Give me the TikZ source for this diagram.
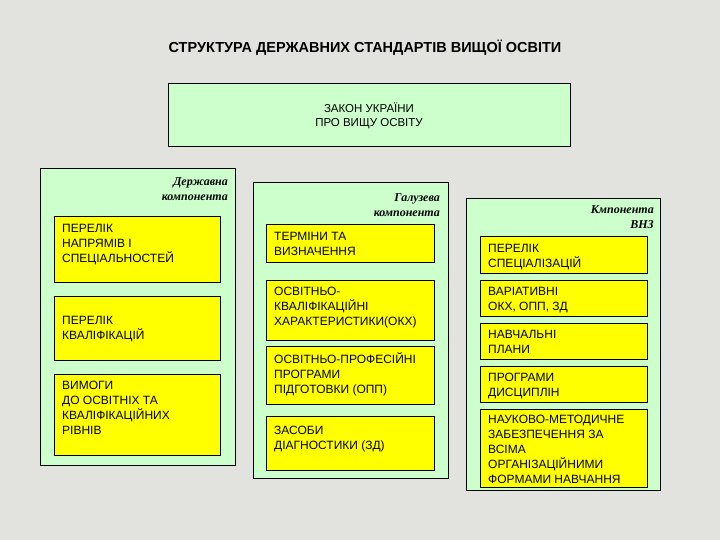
\documentclass[tikz,border=0pt]{standalone}
\usepackage{fontspec}
\setmainfont{Liberation Sans}
\newfontfamily\serifit{Liberation Serif}
\definecolor{bg}{RGB}{226,226,222}
\definecolor{lg}{RGB}{204,255,204}
\definecolor{yl}{RGB}{255,255,0}
\tikzset{
 outer/.style={draw=black,fill=lg,line width=0.7pt},
 ybox/.style={draw=black,fill=yl,line width=0.7pt},
 txt/.style={anchor=north west,align=left,font=\fontsize{12}{15}\selectfont,inner sep=0pt,yshift=-3pt},
 lab/.style={anchor=north east,align=right,font=\serifit\bfseries\itshape\fontsize{12}{15}\selectfont,inner sep=0pt}
}
\begin{document}
\begin{tikzpicture}[x=1pt,y=-1pt]
\fill[bg] (0,0) rectangle (720,540);
\useasboundingbox (0,0) rectangle (720,540);
\node[font=\bfseries\fontsize{14.5}{17}\selectfont] (title) at (365,48) {СТРУКТУРА ДЕРЖАВНИХ СТАНДАРТІВ ВИЩОЇ ОСВІТИ};
\draw[outer] (168,83) rectangle (570,146);
\node[align=center,font=\fontsize{11.5}{14}\selectfont] (law) at (369,116) {ЗАКОН УКРАЇНИ\\ПРО ВИЩУ ОСВІТУ};
% left
\draw[outer] (40,168) rectangle (235,465);
\node[lab] (l1) at (228,177) {Державна\\компонента};
\draw[ybox] (54,216) rectangle (220,282);
\node[txt] (a1) at (62,221) {ПЕРЕЛІК\\НАПРЯМІВ І\\СПЕЦІАЛЬНОСТЕЙ};
\draw[ybox] (54,296) rectangle (220,360);
\node[txt] (a2) at (62,313) {ПЕРЕЛІК\\КВАЛІФІКАЦІЙ};
\draw[ybox] (54,374) rectangle (220,455);
\node[txt] (a3) at (62,378) {ВИМОГИ\\ДО ОСВІТНІХ ТА\\КВАЛІФІКАЦІЙНИХ\\РІВНІВ};
% middle
\draw[outer] (253,182) rectangle (448,478);
\node[lab] (l2) at (440,193) {Галузева\\компонента};
\draw[ybox] (266,224) rectangle (434,262);
\node[txt] (b1) at (274,229) {ТЕРМІНИ ТА\\ВИЗНАЧЕННЯ};
\draw[ybox] (266,280) rectangle (434,340);
\node[txt] (b2) at (274,284) {ОСВІТНЬО-\\КВАЛІФІКАЦІЙНІ\\ХАРАКТЕРИСТИКИ(ОКХ)};
\draw[ybox] (266,346) rectangle (434,404);
\node[txt] (b3) at (274,349) {ОСВІТНЬО-ПРОФЕСІЙНІ\\ПРОГРАМИ\\ПІДГОТОВКИ (ОПП)};
\draw[ybox] (266,416) rectangle (434,470);
\node[txt] (b4) at (274,423) {ЗАСОБИ\\ДІАГНОСТИКИ (ЗД)};
% right
\draw[outer] (466,198) rectangle (660,490);
\node[lab] (l3) at (654,205) {Кмпонента\\ВНЗ};
\draw[ybox] (480,236) rectangle (647,273);
\node[txt] (c1) at (488,241) {ПЕРЕЛІК\\СПЕЦІАЛІЗАЦІЙ};
\draw[ybox] (480,280) rectangle (647,316);
\node[txt] (c2) at (488,284) {ВАРІАТИВНІ\\ОКХ, ОПП, ЗД};
\draw[ybox] (480,323) rectangle (647,359);
\node[txt] (c3) at (488,327) {НАВЧАЛЬНІ\\ПЛАНИ};
\draw[ybox] (480,366) rectangle (647,402);
\node[txt] (c4) at (488,370) {ПРОГРАМИ\\ДИСЦИПЛІН};
\draw[ybox] (480,409) rectangle (647,487);
\node[txt] (c5) at (488,412) {НАУКОВО-МЕТОДИЧНЕ\\ЗАБЕЗПЕЧЕННЯ ЗА\\ВСІМА\\ОРГАНІЗАЦІЙНИМИ\\ФОРМАМИ НАВЧАННЯ};
\end{tikzpicture}
\end{document}
